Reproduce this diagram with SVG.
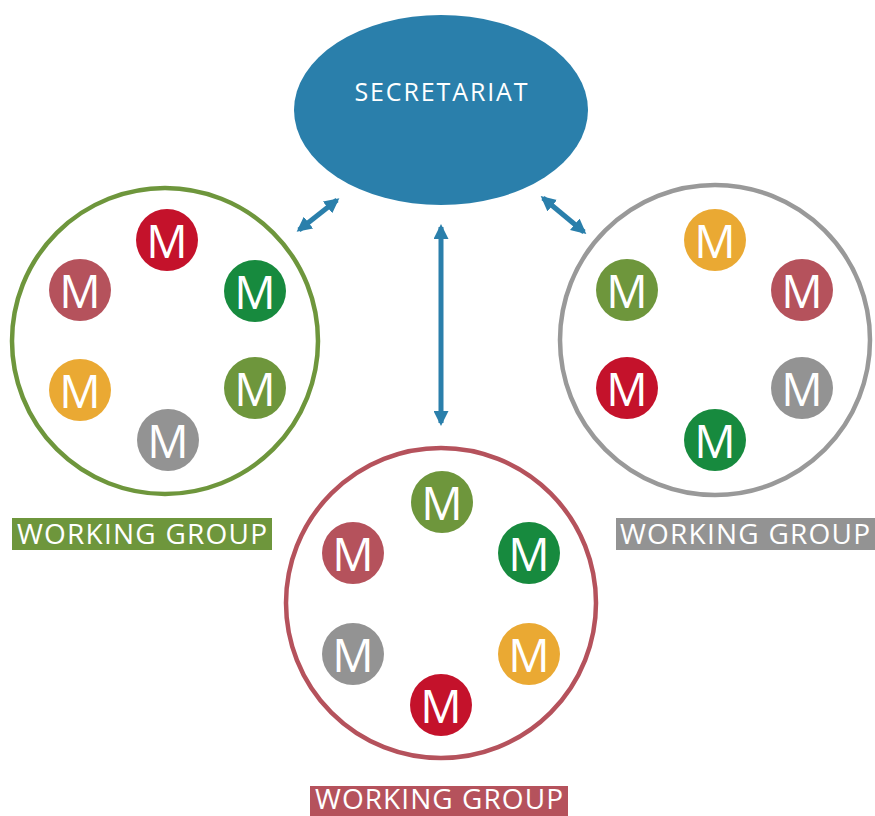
<svg xmlns="http://www.w3.org/2000/svg" width="875" height="816" viewBox="0 0 875 816">
<defs>
<marker id="ah" viewBox="0 0 10 10" refX="8" refY="5" markerWidth="3" markerHeight="3" orient="auto-start-reverse" markerUnits="strokeWidth">
<path d="M0,0 L10,5 L0,10 Z" fill="#2a7fab"/>
</marker>
<style>
.m text{font-family:"Open Sans","Noto Sans",sans-serif;font-size:46px;font-weight:500;fill:#fff;text-anchor:middle;dominant-baseline:central}
.mr{fill:#c4122b}.mp{fill:#b5525c}.mg{fill:#178a3e}.mo{fill:#6e963c}.my{fill:#eaa933}.mx{fill:#939393}
.lbl{font-family:"Open Sans","Noto Sans",sans-serif;font-size:28px;fill:#fff;text-anchor:middle}
.conn line{stroke:#2a7fab;stroke-width:5;marker-start:url(#ah);marker-end:url(#ah)}
</style>
</defs>
<rect width="875" height="816" fill="#fff"/>

<g id="secretariat">
<ellipse cx="441" cy="110" rx="147" ry="95" fill="#2a7fab"/>
<text x="441" y="101" font-family="'Open Sans','Noto Sans',sans-serif" font-size="25" fill="#fff" text-anchor="middle" textLength="173" lengthAdjust="spacing">SECRETARIAT</text>
</g>

<g class="conn" id="connectors">
<line x1="337" y1="200" x2="299" y2="230"/>
<line x1="543" y1="198" x2="584" y2="232"/>
<line x1="441" y1="227" x2="441" y2="423"/>
</g>

<g id="wg-left">
<circle cx="165" cy="341" r="153" fill="none" stroke="#6e963c" stroke-width="4.5"/>
<g class="m">
<circle class="mr" cx="167" cy="240" r="31"/><text x="167" y="240">M</text>
<circle class="mp" cx="80" cy="290" r="31"/><text x="80" y="290">M</text>
<circle class="mg" cx="255" cy="291" r="31"/><text x="255" y="291">M</text>
<circle class="my" cx="80" cy="390" r="31"/><text x="80" y="390">M</text>
<circle class="mo" cx="255" cy="388" r="31"/><text x="255" y="388">M</text>
<circle class="mx" cx="168" cy="440" r="31"/><text x="168" y="440">M</text>
</g>
<rect x="12" y="518" width="260" height="32" fill="#6e963c"/>
<text class="lbl" x="142" y="544" textLength="250" lengthAdjust="spacing">WORKING GROUP</text>
</g>

<g id="wg-right">
<circle cx="715" cy="340" r="155" fill="none" stroke="#999" stroke-width="4.5"/>
<g class="m">
<circle class="my" cx="715" cy="240" r="31"/><text x="715" y="240">M</text>
<circle class="mo" cx="627" cy="290" r="31"/><text x="627" y="290">M</text>
<circle class="mp" cx="802" cy="290" r="31"/><text x="802" y="290">M</text>
<circle class="mr" cx="627" cy="388" r="31"/><text x="627" y="388">M</text>
<circle class="mx" cx="802" cy="388" r="31"/><text x="802" y="388">M</text>
<circle class="mg" cx="715" cy="440" r="31"/><text x="715" y="440">M</text>
</g>
<rect x="616" y="518" width="259" height="32" fill="#939393"/>
<text class="lbl" x="745" y="544" textLength="250" lengthAdjust="spacing">WORKING GROUP</text>
</g>

<g id="wg-bottom">
<circle cx="441" cy="603" r="155" fill="none" stroke="#b5525c" stroke-width="4.5"/>
<g class="m">
<circle class="mo" cx="442" cy="502" r="31"/><text x="442" y="502">M</text>
<circle class="mp" cx="353" cy="553" r="31"/><text x="353" y="553">M</text>
<circle class="mg" cx="529" cy="553" r="31"/><text x="529" y="553">M</text>
<circle class="mx" cx="353" cy="654" r="31"/><text x="353" y="654">M</text>
<circle class="my" cx="529" cy="654" r="31"/><text x="529" y="654">M</text>
<circle class="mr" cx="441" cy="705" r="31"/><text x="441" y="705">M</text>
</g>
<rect x="310" y="786" width="258" height="30" fill="#b5525c"/>
<text class="lbl" x="439" y="809" font-size="27" textLength="248" lengthAdjust="spacing">WORKING GROUP</text>
</g>
</svg>
